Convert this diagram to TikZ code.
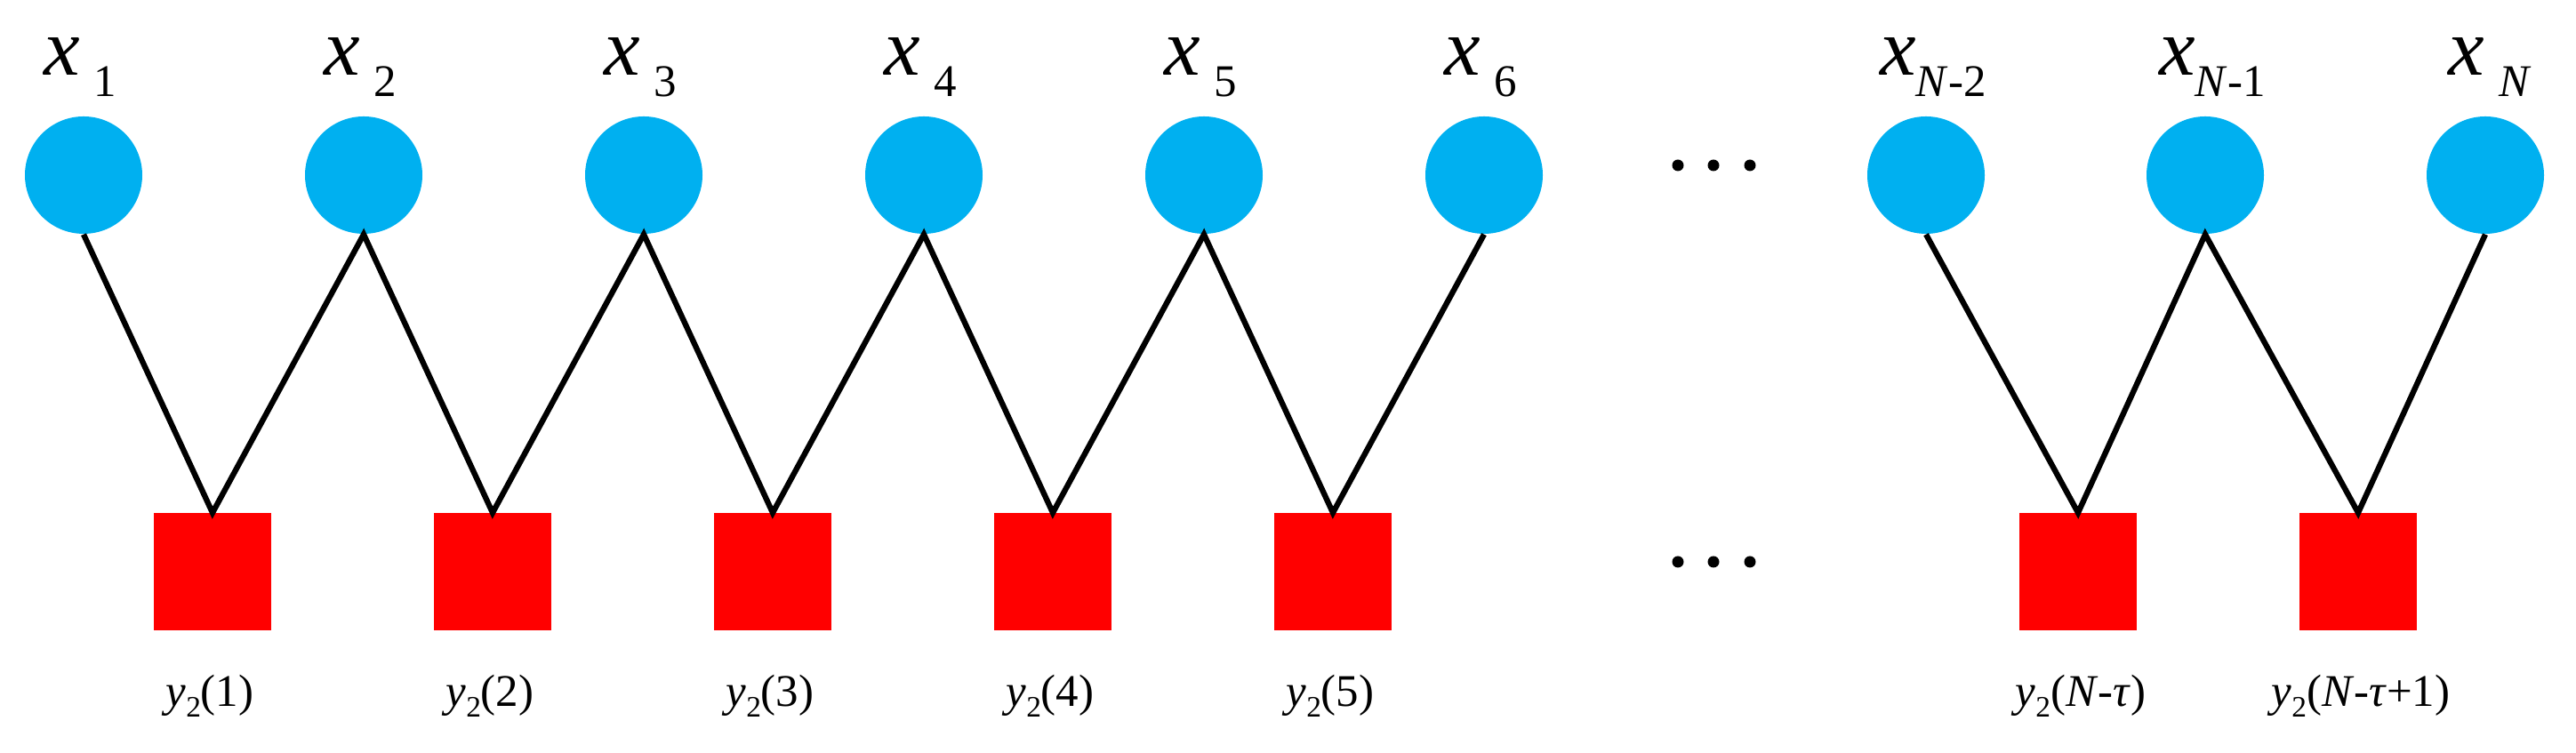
\documentclass[tikz,border=0pt]{standalone}
\usepackage{fontspec}
\setmainfont{Liberation Serif}
\usepackage{xcolor}
\usetikzlibrary{calc}

\definecolor{varblue}{RGB}{0,176,240}
\definecolor{facred}{RGB}{255,0,0}

\newcommand{\xname}[2]{{\fontsize{26}{26}\selectfont\textit{x}}\hspace{#1}\raisebox{-6.8pt}{\fontsize{14.5}{14.5}\selectfont #2}}
\newcommand{\yname}[1]{\textit{y}\raisebox{-3.4pt}{\fontsize{9.5}{9.5}\selectfont 2}(#1)}

\tikzset{
  var/.style={circle, fill=varblue, inner sep=0pt, minimum size=1.32cm},
  fac/.style={rectangle, fill=facred, inner sep=0pt, minimum size=1.32cm},
  edge/.style={line width=1.8pt, black},
  xlab/.style={anchor=base, inner sep=0pt},
  ylab/.style={anchor=base, inner sep=0pt, font=\fontsize{14.5}{14.5}\selectfont}
}

\begin{document}
\begin{tikzpicture}
    \useasboundingbox (0,0) rectangle (28.97,8.47);

    \node[var] (x1) at (0.94,6.50) {};
    \node[var] (x2) at (4.09,6.50) {};
    \node[var] (x3) at (7.24,6.50) {};
    \node[var] (x4) at (10.39,6.50) {};
    \node[var] (x5) at (13.54,6.50) {};
    \node[var] (x6) at (16.69,6.50) {};
    \node[var] (xN2) at (21.66,6.50) {};
    \node[var] (xN1) at (24.80,6.50) {};
    \node[var] (xN) at (27.95,6.50) {};

    \node[fac] (y1) at (2.39,2.035) {};
    \node[fac] (y2) at (5.54,2.035) {};
    \node[fac] (y3) at (8.69,2.035) {};
    \node[fac] (y4) at (11.84,2.035) {};
    \node[fac] (y5) at (14.99,2.035) {};
    \node[fac] (yA) at (23.37,2.035) {};
    \node[fac] (yB) at (26.52,2.035) {};

    % variable labels
    \node[xlab] (lx1) at (0.90,7.62) {\xname{4.5pt}{1}};
    \node[xlab] (lx2) at (4.05,7.62) {\xname{4.5pt}{2}};
    \node[xlab] (lx3) at (7.20,7.62) {\xname{4.5pt}{3}};
    \node[xlab] (lx4) at (10.35,7.62) {\xname{4.5pt}{4}};
    \node[xlab] (lx5) at (13.50,7.62) {\xname{4.5pt}{5}};
    \node[xlab] (lx6) at (16.65,7.62) {\xname{4.5pt}{6}};
    \node[xlab] (lxN2) at (21.74,7.62) {\xname{0pt}{\textit{N}-2}};
    \node[xlab] (lxN1) at (24.88,7.62) {\xname{0pt}{\textit{N}-1}};
    \node[xlab] (lxN) at (28.00,7.62) {\xname{4.5pt}{\textit{N}}};

    % factor labels
    \node[ylab] (ly1) at (2.36,0.52) {\yname{1}};
    \node[ylab] (ly2) at (5.51,0.52) {\yname{2}};
    \node[ylab] (ly3) at (8.66,0.52) {\yname{3}};
    \node[ylab] (ly4) at (11.81,0.52) {\yname{4}};
    \node[ylab] (ly5) at (14.96,0.52) {\yname{5}};
    \node[ylab] (lyA) at (23.40,0.52) {\yname{\textit{N}-\textit{τ}}};
    \node[ylab] (lyB) at (26.55,0.52) {\yname{\textit{N}-\textit{τ}+1}};

    % dots
    \foreach \dx in {18.87,19.27,19.68} {
      \fill (\dx,6.61) circle (0.065);
      \fill (\dx,2.15) circle (0.065);
    }

    \draw[edge] (x1.south) -- (y1.north) -- (x2.south) -- (y2.north) -- (x3.south) -- (y3.north)
      -- (x4.south) -- (y4.north) -- (x5.south) -- (y5.north) -- (x6.south);
    \draw[edge] (xN2.south) -- (yA.north) -- (xN1.south) -- (yB.north) -- (xN.south);
  \end{tikzpicture}
\end{document}
